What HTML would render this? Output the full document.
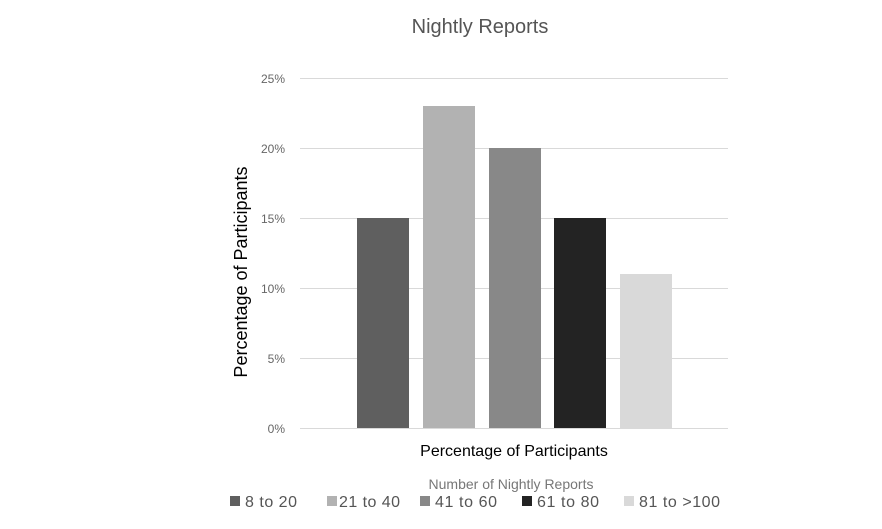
<!DOCTYPE html>
<html><head><style>
body{margin:0;background:#fff;}
svg text{font-family:"Liberation Sans",sans-serif;}
</style></head><body>
<svg width="882" height="524" xmlns="http://www.w3.org/2000/svg">
<rect width="882" height="524" fill="#fff"/>
<text x="480" y="33" text-anchor="middle" font-size="20" fill="#555">Nightly Reports</text>
<g stroke="#d9d9d9" stroke-width="1">
<line x1="300" x2="728" y1="78.5" y2="78.5"/>
<line x1="300" x2="728" y1="148.5" y2="148.5"/>
<line x1="300" x2="728" y1="218.5" y2="218.5"/>
<line x1="300" x2="728" y1="288.5" y2="288.5"/>
<line x1="300" x2="728" y1="358.5" y2="358.5"/>
<line x1="300" x2="728" y1="428.5" y2="428.5"/>
</g>
<g font-size="12" fill="#666" text-anchor="end">
<text x="285" y="83">25%</text>
<text x="285" y="153">20%</text>
<text x="285" y="223">15%</text>
<text x="285" y="293">10%</text>
<text x="285" y="363">5%</text>
<text x="285" y="433">0%</text>
</g>
<rect x="357" y="218" width="52" height="210" fill="#5f5f5f"/>
<rect x="423" y="106" width="52" height="322" fill="#b2b2b2"/>
<rect x="489" y="148" width="52" height="280" fill="#888888"/>
<rect x="554" y="218" width="52" height="210" fill="#232323"/>
<rect x="620" y="274" width="52" height="154" fill="#d9d9d9"/>
<text transform="translate(247,272) rotate(-90)" text-anchor="middle" font-size="18" fill="#000">Percentage of Participants</text>
<text x="514" y="456" text-anchor="middle" font-size="16" fill="#000">Percentage of Participants</text>
<text x="511" y="489" text-anchor="middle" font-size="14" fill="#777">Number of Nightly Reports</text>
<g font-size="16" fill="#555">
<rect x="230" y="496" width="10" height="10" fill="#5f5f5f"/><text x="245" y="507" textLength="52">8 to 20</text>
<rect x="327" y="496" width="10" height="10" fill="#b2b2b2"/><text x="339" y="507" textLength="61">21 to 40</text>
<rect x="420" y="496" width="10" height="10" fill="#888888"/><text x="435" y="507" textLength="62">41 to 60</text>
<rect x="522" y="496" width="10" height="10" fill="#232323"/><text x="537" y="507" textLength="62">61 to 80</text>
<rect x="624" y="496" width="10" height="10" fill="#d9d9d9"/><text x="639" y="507" textLength="81">81 to &gt;100</text>
</g>
</svg>
</body></html>
